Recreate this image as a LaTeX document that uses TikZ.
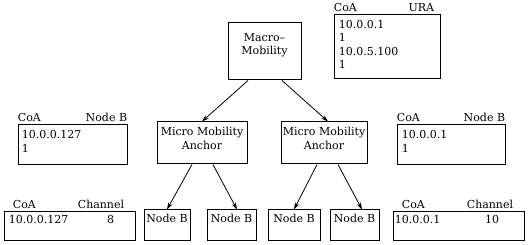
\documentclass[tikz,border=0pt]{standalone}
\usepackage{fontspec}
\setmainfont{DejaVu Serif}
\usetikzlibrary{arrows.meta}
\tikzset{
  box/.style={draw, line width=1pt, inner sep=0pt},
  txt/.style={inner sep=0pt, align=center},
  val/.style={inner sep=0pt, align=left, anchor=north west},
}
\begin{document}
\begin{tikzpicture}[x=1pt, y=-1pt, line width=0.8pt, >={Stealth[length=7pt,width=4.5pt]}, font=\fontsize{11}{13.5}\selectfont]
    \useasboundingbox (0,0) rectangle (530,245);
    % mobility tree
    \node[box, minimum width=73, minimum height=57] (macro) at (264.5,51.5) {};
    \node[txt, anchor=north] (macrot) at ([yshift=-10.5pt]macro.north) {Macro--\\Mobility};
    \node[box, minimum width=90, minimum height=42] (mma1) at (202,143) {};
    \node[txt, anchor=north] (mma1t) at ([yshift=-5.5pt]mma1.north) {Micro Mobility\\Anchor};
    \node[box, minimum width=86, minimum height=42] (mma2) at (324,143) {};
    \node[txt, anchor=north] (mma2t) at ([yshift=-5.5pt]mma2.north) {Micro Mobility\\Anchor};
    \node[box, minimum width=46, minimum height=31] (nb1) at (167,225.5) {};
    \node[box, minimum width=49, minimum height=31] (nb2) at (231.5,225.5) {};
    \node[box, minimum width=52, minimum height=31] (nb3) at (294,225.5) {};
    \node[box, minimum width=49, minimum height=31] (nb4) at (354.5,225.5) {};
    \node[txt, anchor=north] (nb1t) at ([yshift=-4.5pt]nb1.north) {Node B};
    \node[txt, anchor=north] (nb2t) at ([yshift=-4.5pt]nb2.north) {Node B};
    \node[txt, anchor=north] (nb3t) at ([yshift=-4.5pt]nb3.north) {Node B};
    \node[txt, anchor=north] (nb4t) at ([yshift=-4.5pt]nb4.north) {Node B};
    \draw [->] ([xshift=-16.5pt]macro.south) -- (mma1.north);
    \draw [->] ([xshift=17.5pt]macro.south) -- ([xshift=4pt]mma2.north);
    \draw [->] ([xshift=-10pt]mma1.south) -- (nb1.north);
    \draw [->] ([xshift=11pt]mma1.south) -- ([xshift=5.5pt]nb2.north);
    \draw [->] ([xshift=-7pt]mma2.south) -- (nb3.north);
    \draw [->] ([xshift=14pt]mma2.south) -- ([xshift=7.5pt]nb4.north);
    % URA table
    \node[box, minimum width=106, minimum height=64] (ura) at (387,47) {};
    \node[txt, anchor=south west] (urac) at ([yshift=2.5pt]ura.north west) {CoA};
    \node[txt, anchor=south east] (urah) at ([xshift=-6pt,yshift=2.5pt]ura.north east) {URA};
    \node[val] (urav) at ([xshift=5pt,yshift=-5pt]ura.north west) {10.0.0.1\\1\\10.0.5.100\\1};
    % Node B tables
    \node[box, minimum width=109, minimum height=40] (nbl) at (72.5,145) {};
    \node[txt, anchor=south west] (nblc) at ([yshift=2.5pt]nbl.north west) {CoA};
    \node[txt, anchor=south east] (nblh) at ([yshift=2.5pt]nbl.north east) {Node B};
    \node[val] (nblv) at ([xshift=4pt,yshift=-5.5pt]nbl.north west) {10.0.0.127\\1};
    \node[box, minimum width=108, minimum height=40] (nbr) at (451,145) {};
    \node[txt, anchor=south west] (nbrc) at ([yshift=2.5pt]nbr.north west) {CoA};
    \node[txt, anchor=south east] (nbrh) at ([yshift=2.5pt]nbr.north east) {Node B};
    \node[val] (nbrv) at ([xshift=5pt,yshift=-5.5pt]nbr.north west) {10.0.0.1\\1};
    % channel tables
    \node[box, minimum width=131, minimum height=29] (chl) at (69.5,226.5) {};
    \node[txt, anchor=south west] (chlc) at ([xshift=9pt,yshift=2.5pt]chl.north west) {CoA};
    \node[txt, anchor=south east] (chlh) at ([xshift=-11pt,yshift=2.5pt]chl.north east) {Channel};
    \node[val] (chlv) at ([xshift=5pt,yshift=-3.5pt]chl.north west) {10.0.0.127};
    \node[txt, anchor=north] (chln) at ([xshift=-25pt,yshift=-3.5pt]chl.north east) {8};
    \node[box, minimum width=131, minimum height=29] (chr) at (458.5,226.5) {};
    \node[txt, anchor=south west] (chrc) at ([xshift=9pt,yshift=2.5pt]chr.north west) {CoA};
    \node[txt, anchor=south east] (chrh) at ([xshift=-11pt,yshift=2.5pt]chr.north east) {Channel};
    \node[val] (chrv) at ([xshift=2pt,yshift=-3.5pt]chr.north west) {10.0.0.1};
    \node[txt, anchor=north] (chrn) at ([xshift=-32.5pt,yshift=-3.5pt]chr.north east) {10};
\end{tikzpicture}
\end{document}
